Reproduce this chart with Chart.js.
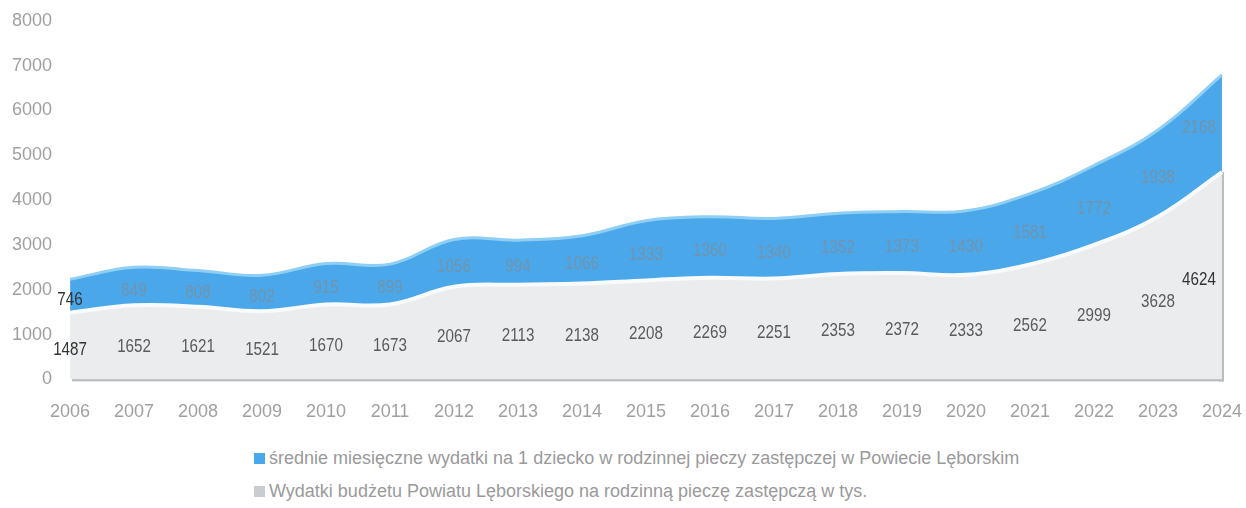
<!DOCTYPE html>
<html>
<head>
<meta charset="utf-8">
<script src="https://cdn.jsdelivr.net/npm/chart.js@4/dist/chart.umd.min.js"></script>
<style>
  body { margin: 0; background: #fff; font-family: "Liberation Sans", Arial, sans-serif; overflow: hidden; }
  #wrap { position: relative; left: -8px; width: 1264px; height: 437px; }
  #legend { position: absolute; left: 254px; top: 444px; color: #9a9a9a; font-size: 18px; }
  #legend div { height: 33px; line-height: 28px; white-space: nowrap; }
  #legend span.box { display: inline-block; width: 11px; height: 11px; margin-right: 4px; vertical-align: 0px; }
</style>
</head>
<body>
<div id="wrap"><canvas id="area"></canvas></div>
<div id="legend"></div>
<script>
const years = ['2006', '2007', '2008', '2009', '2010', '2011', '2012', '2013', '2014', '2015',
  '2016', '2017', '2018', '2019', '2020', '2021', '2022', '2023', '2024'];
const budget = [1487, 1652, 1621, 1521, 1670, 1673, 2067, 2113, 2138, 2208,
  2269, 2251, 2353, 2372, 2333, 2562, 2999, 3628, 4624];
const monthly = [746, 849, 808, 802, 915, 899, 1056, 994, 1066, 1333,
  1360, 1340, 1352, 1373, 1430, 1581, 1772, 1938, 2168];
const yTicks = [0, 1000, 2000, 3000, 4000, 5000, 6000, 7000, 8000];

const labelMonthly = 'średnie miesięczne wydatki na 1 dziecko w rodzinnej pieczy zastępczej w Powiecie Lęborskim';
const labelBudget = 'Wydatki budżetu Powiatu Lęborskiego na rodzinną pieczę zastępczą w tys.';

const FONT = '"Liberation Sans", Arial, sans-serif';

// numbers written in the middle of each band, slightly condensed
const bandLabels = {
  id: 'bandLabels',
  afterDatasetsDraw(chart) {
    const ctx = chart.ctx;
    const y = chart.scales.y;
    const pts = chart.getDatasetMeta(0).data;
    const last = pts.length - 1;
    ctx.save();
    ctx.font = '19px ' + FONT;
    ctx.textAlign = 'center';
    ctx.textBaseline = 'middle';
    const put = (txt, x, yy) => {
      ctx.save();
      ctx.translate(x, yy);
      ctx.scale(0.8, 1);
      ctx.fillText(txt, 0, 0);
      ctx.restore();
    };
    pts.forEach((p, i) => {
      let x = p.x;
      if (i === last) x -= 23;
      ctx.fillStyle = (i === 0 || i === last) ? '#333' : '#5a5a5a';
      put(budget[i], x, y.getPixelForValue(budget[i] / 2) + 4);
      ctx.fillStyle = i === 0 ? '#333' : '#7293ad';
      put(monthly[i], x, y.getPixelForValue(budget[i] + monthly[i] / 2) + 4);
    });
    ctx.restore();
  }
};

// grey slab edge along the bottom and right side
const slabEdge = {
  id: 'slabEdge',
  beforeDatasetsDraw(chart) {
    const ctx = chart.ctx;
    const y = chart.scales.y;
    const pts = chart.getDatasetMeta(0).data;
    const first = pts[0], last = pts[pts.length - 1];
    const base = y.getPixelForValue(0);
    ctx.save();
    ctx.fillStyle = '#b9bdc2';
    ctx.fillRect(first.x + 2, base - 3, last.x - first.x, 5);
    ctx.fillRect(last.x - 3, last.y, 5, base - last.y + 2);
    ctx.restore();
  }
};

const config = {
  type: 'line',
  data: {
    labels: years,
    datasets: [{
      label: labelBudget,
      data: budget,
      fill: 'origin',
      backgroundColor: '#eaecee',
      borderColor: '#f9fafb',
      borderWidth: 4,
      pointRadius: 0,
      tension: 0.4
    }, {
      label: labelMonthly,
      data: monthly,
      fill: '-1',
      backgroundColor: '#4aa8ea',
      borderColor: '#8fcff6',
      borderWidth: 3,
      pointRadius: 0,
      tension: 0.4
    }]
  },
  options: {
    responsive: true,
    maintainAspectRatio: false,
    animation: false,
    layout: { padding: { left: 10, top: 6, right: 0 } },
    plugins: {
      legend: { display: false },
      tooltip: { enabled: false }
    },
    scales: {
      x: {
        grid: { display: false },
        border: { display: false },
        ticks: { color: '#a0a0a0', font: { family: FONT, size: 18 }, padding: 14, maxRotation: 0 }
      },
      y: {
        stacked: true,
        min: 0,
        max: 8000,
        afterBuildTicks: axis => { axis.ticks = yTicks.map(v => ({ value: v })); },
        grid: { display: false },
        border: { display: false },
        ticks: { color: '#a0a0a0', font: { family: FONT, size: 18 }, padding: 10, callback: v => String(v) }
      }
    }
  },
  plugins: [slabEdge, bandLabels]
};

window.onload = function() {
  const chart = new Chart(document.getElementById('area'), config);
  const legend = document.getElementById('legend');
  const icons = ['#4aa8ea', '#c9cdd1'];
  [1, 0].forEach((idx, k) => {
    const ds = chart.data.datasets[idx];
    const row = document.createElement('div');
    const box = document.createElement('span');
    box.className = 'box';
    box.style.background = icons[k];
    row.appendChild(box);
    row.appendChild(document.createTextNode(ds.label));
    legend.appendChild(row);
  });
};
</script>
</body>
</html>
